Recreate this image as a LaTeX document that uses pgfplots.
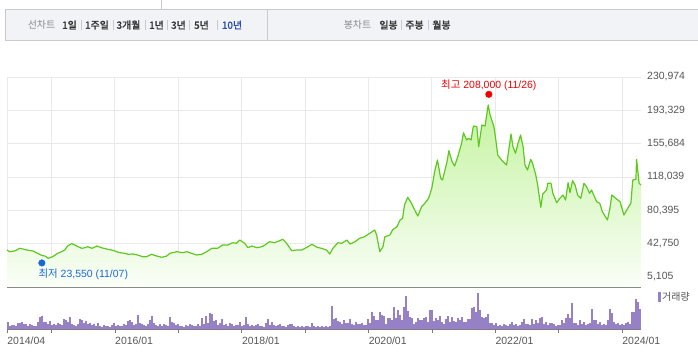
\documentclass[border=0pt]{standalone}
\usepackage{pgfplots}
\pgfplotsset{compat=1.18}
\usepackage{pgfplotstable}
\usepackage{fontspec}
\setmainfont{Liberation Sans}
\newfontfamily\kr[AutoFakeBold=1.6]{Noto Sans CJK KR}
\definecolor{gridc}{HTML}{E9E9E9}
\definecolor{linec}{HTML}{5DC91F}
\definecolor{volc}{HTML}{9681C7}
\definecolor{labc}{HTML}{555555}
\definecolor{axisc}{HTML}{7A7A7A}
\definecolor{tabbg}{HTML}{F2F3F7}
\definecolor{tabbd}{HTML}{C8CACF}
\definecolor{lowc}{HTML}{1A66D9}
\definecolor{hic}{HTML}{F00000}
\definecolor{tabblue}{HTML}{2B4FA8}
\definecolor{tabdark}{HTML}{333333}
\definecolor{tabgray}{HTML}{8A8A8A}
\definecolor{fillTop}{RGB}{196,243,160}
\definecolor{fillBot}{RGB}{250,254,247}

\pgfplotstableread[row sep=\\]{vol\\7\\3\\4\\4\\3\\6\\6\\7\\5\\5\\3\\5\\4\\3\\3\\7\\12\\13\\7\\7\\5\\8\\4\\5\\4\\6\\5\\4\\10\\9\\7\\12\\5\\4\\3\\5\\10\\9\\6\\8\\5\\6\\4\\5\\3\\6\\3\\2\\4\\3\\3\\2\\4\\6\\3\\4\\3\\3\\5\\4\\8\\9\\7\\4\\5\\14\\6\\5\\4\\3\\5\\9\\13\\6\\4\\3\\5\\3\\5\\4\\3\\12\\7\\6\\4\\5\\3\\3\\2\\4\\3\\5\\4\\3\\3\\5\\3\\11\\5\\13\\6\\16\\15\\8\\9\\4\\6\\10\\4\\5\\3\\6\\5\\3\\4\\4\\7\\3\\4\\12\\5\\3\\4\\3\\4\\5\\3\\3\\2\\6\\10\\4\\7\\4\\3\\4\\5\\3\\3\\2\\4\\5\\5\\3\\2\\3\\2\\3\\2\\3\\3\\2\\6\\3\\2\\3\\2\\3\\2\\3\\2\\3\\23\\10\\11\\8\\7\\5\\9\\6\\6\\10\\5\\4\\7\\5\\5\\6\\4\\4\\10\\6\\17\\13\\9\\9\\17\\14\\13\\5\\11\\11\\9\\22\\11\\19\\14\\9\\22\\33\\18\\12\\11\\5\\7\\11\\9\\9\\11\\12\\7\\19\\19\\8\\11\\9\\13\\7\\5\\10\\13\\7\\12\\8\\7\\11\\9\\12\\7\\7\\10\\10\\21\\22\\17\\36\\19\\12\\11\\12\\15\\6\\6\\4\\6\\3\\4\\3\\5\\4\\3\\5\\7\\4\\5\\3\\4\\7\\10\\5\\5\\4\\10\\5\\9\\6\\11\\12\\5\\7\\4\\6\\6\\5\\3\\4\\4\\9\\6\\11\\15\\11\\26\\6\\6\\4\\9\\5\\7\\4\\5\\6\\20\\9\\9\\5\\7\\4\\5\\4\\9\\20\\16\\7\\5\\6\\4\\5\\4\\6\\7\\5\\17\\17\\30\\27\\20\\}\voltable

\pgfplotstableread{
yr val
2014.30 35600
2014.34 33670
2014.42 34460
2014.50 37510
2014.55 36720
2014.61 35590
2014.71 34460
2014.78 31860
2014.86 29150
2014.90 28810
2014.95 26210
2015.02 28020
2015.10 31860
2015.16 33670
2015.21 35590
2015.26 40440
2015.32 42700
2015.37 41230
2015.42 39320
2015.48 37510
2015.53 38190
2015.57 39320
2015.64 37510
2015.72 40110
2015.79 38190
2015.87 36720
2015.95 35590
2016.00 34460
2016.08 32540
2016.16 31860
2016.21 30730
2016.28 31070
2016.36 29940
2016.44 28020
2016.50 28020
2016.58 30730
2016.66 28810
2016.74 27340
2016.82 28810
2016.87 31860
2016.98 33670
2017.07 32540
2017.14 33670
2017.21 31860
2017.29 29940
2017.37 30730
2017.45 33670
2017.53 37510
2017.62 37510
2017.70 41230
2017.78 41230
2017.86 43830
2017.92 43150
2017.97 46880
2018.05 43150
2018.10 38190
2018.16 40110
2018.24 38190
2018.32 39320
2018.37 41230
2018.44 44960
2018.52 43830
2018.60 46090
2018.65 47670
2018.71 43150
2018.79 34800
2018.87 35590
2018.95 35590
2019.03 38640
2019.11 42030
2019.19 38640
2019.26 37510
2019.34 35590
2019.39 31070
2019.44 37510
2019.52 43830
2019.58 43150
2019.66 46880
2019.71 42360
2019.79 44960
2019.86 48800
2019.94 50610
2020.02 54450
2020.10 58180
2020.13 52530
2020.18 33670
2020.23 39320
2020.26 50610
2020.34 52530
2020.38 58180
2020.45 61900
2020.50 69470
2020.54 71390
2020.57 86410
2020.62 95110
2020.68 88330
2020.73 80760
2020.78 73990
2020.84 84490
2020.89 88330
2020.95 93980
2021.00 105270
2021.05 125940
2021.09 137230
2021.14 116570
2021.17 114650
2021.24 135310
2021.27 147740
2021.32 135310
2021.36 130460
2021.41 140960
2021.47 156100
2021.50 168070
2021.55 159820
2021.58 161740
2021.62 159820
2021.65 173380
2021.66 175630
2021.71 174840
2021.74 152250
2021.79 176760
2021.84 175630
2021.89 199350
2021.92 188060
2021.98 174840
2022.01 160000
2022.04 142880
2022.10 137230
2022.18 131590
2022.25 166600
2022.28 152250
2022.32 144800
2022.36 156100
2022.40 165470
2022.44 152250
2022.47 131590
2022.51 125940
2022.56 138020
2022.59 133510
2022.64 120290
2022.67 109000
2022.72 83810
2022.75 98830
2022.81 103350
2022.83 110920
2022.88 110920
2022.91 99620
2022.97 89010
2023.02 93980
2023.07 97700
2023.11 92060
2023.15 111600
2023.18 100300
2023.22 113860
2023.26 109000
2023.30 97700
2023.35 93980
2023.40 110920
2023.44 107080
2023.49 99620
2023.52 103350
2023.60 90140
2023.65 88330
2023.69 78840
2023.77 69470
2023.81 82680
2023.84 97700
2023.90 93980
2023.97 90140
2024.03 75120
2024.09 82680
2024.14 88330
2024.17 114650
2024.22 115440
2024.23 138020
2024.27 110920
2024.30 109000
}\pricetable

\begin{document}
\begin{tikzpicture}[x=1bp,y=1bp]
\path[use as bounding box] (0,0) rectangle (698,362);
% tab bar
\draw[tabbd, line width=0.8bp] (161,362) -- (161,353);
\filldraw[fill=tabbg, draw=tabbd, line width=0.8bp] (5,322) rectangle (701,353);
\draw[tabbd, line width=0.8bp] (267,322) -- (267,353);
\begin{scope}[every node/.style={font=\kr\fontsize{10}{11}\selectfont, inner sep=0pt, anchor=center}]
\node[text=tabgray] at (41.5,337) {선차트};
\node[text=tabdark] at (69.5,337) {\bfseries 1일};
\node[text=tabdark] at (97,337) {\bfseries 1주일};
\node[text=tabdark] at (128.5,337) {\bfseries 3개월};
\node[text=tabdark] at (156.5,337) {\bfseries 1년};
\node[text=tabdark] at (178.5,337) {\bfseries 3년};
\node[text=tabdark] at (201.5,337) {\bfseries 5년};
\node[text=tabblue] at (232,337) {\bfseries 10년};
\node[text=tabgray] at (357.5,337) {봉차트};
\node[text=tabdark] at (388.5,337) {\bfseries 일봉};
\node[text=tabdark] at (414.5,337) {\bfseries 주봉};
\node[text=tabdark] at (441.5,337) {\bfseries 월봉};
\end{scope}
\foreach \sx in {81,113,145,167,189,217,401,428}{
  \draw[tabbd, line width=0.6bp] (\sx,332) -- (\sx,342);
}

% price axis
\begin{axis}[
  at={(7bp,75bp)}, anchor=south west, scale only axis,
  width=634bp, height=210bp,
  xmin=2014.30, xmax=2024.30, ymin=-6200, ymax=230974,
  separate axis lines,
  axis x line*=bottom, axis y line*=right,
  x axis line style={-, draw=axisc, line width=1.5bp},
  y axis line style={draw=none},
  xtick={2014.30,2015,2016,2017,2018,2019,2020,2021,2022,2023,2024},
  xticklabels={},
  scaled y ticks=false,
  ytick={5105,42750,80395,118039,155684,193329,230974},
  yticklabels={{5,105},{42,750},{80,395},{118,039},{155,684},{193,329},{230,974}},
  yticklabel style={anchor=west, inner sep=0pt, xshift=6bp, font=\fontsize{10.5}{12}\selectfont, text=labc},
  major tick length=0pt,
  grid=major, grid style={gridc, line width=0.8bp},
  clip=false,
]
\addplot[draw=none, top color=fillTop, bottom color=fillBot] table[x=yr, y=val] {\pricetable}
  -- (axis cs:2024.30,-6200) -- (axis cs:2014.30,-6200) -- cycle;
\addplot[linec, line width=1.2bp, line join=round] table[x=yr, y=val] {\pricetable};
\addplot[only marks, mark=*, mark size=3.3bp, mark options={draw=hic, fill=hic, yshift=3bp}] coordinates {(2021.90,208000)}
  node[above=5bp, font=\fontsize{10.5}{12}\selectfont, text=hic, inner sep=1bp] {{\kr 최고} 208,000 (11/26)};
\addplot[only marks, mark=*, mark size=3.3bp, mark options={draw=lowc, fill=lowc, yshift=-2.3bp}] coordinates {(2014.85,23550)}
  node[anchor=north west, xshift=-4.5bp, yshift=-7bp, font=\fontsize{10.5}{12}\selectfont, text=lowc, inner sep=1bp] {{\kr 최저} 23,550 (11/07)};
\end{axis}

% volume axis
\begin{axis}[
  at={(7bp,33bp)}, anchor=south west, scale only axis,
  width=634bp, height=42bp,
  xmin=-0.5, xmax=316.5, ymin=0, ymax=42,
  axis x line*=bottom, axis y line=none,
  x axis line style={-, draw=axisc, line width=1.2bp},
  xtick={-0.4,21.8,53.5,85.2,116.9,148.6,180.3,212,243.7,275.4,307.1},
  xticklabels={2014/04,,2016/01,,2018/01,,2020/01,,2022/01,,2024/01},
  xticklabel style={anchor=north west, inner sep=0pt, yshift=-4bp, font=\fontsize{10.5}{12}\selectfont, text=labc},
  ytick=\empty,
  tick align=outside, major tick length=4bp,
  tick style={draw=axisc, line width=0.8bp},
]
\addplot[ybar, bar width=1.6bp, bar shift=0pt, fill=volc, draw=none] table[x expr=\coordindex, y=vol] {\voltable};
\end{axis}

% volume legend
\fill[volc] (657.5,60) rectangle (660.5,70);
\node[anchor=west, inner sep=0pt, font=\kr\fontsize{10}{11}\selectfont, text=labc] at (662,65) {거래량};
\end{tikzpicture}
\end{document}
